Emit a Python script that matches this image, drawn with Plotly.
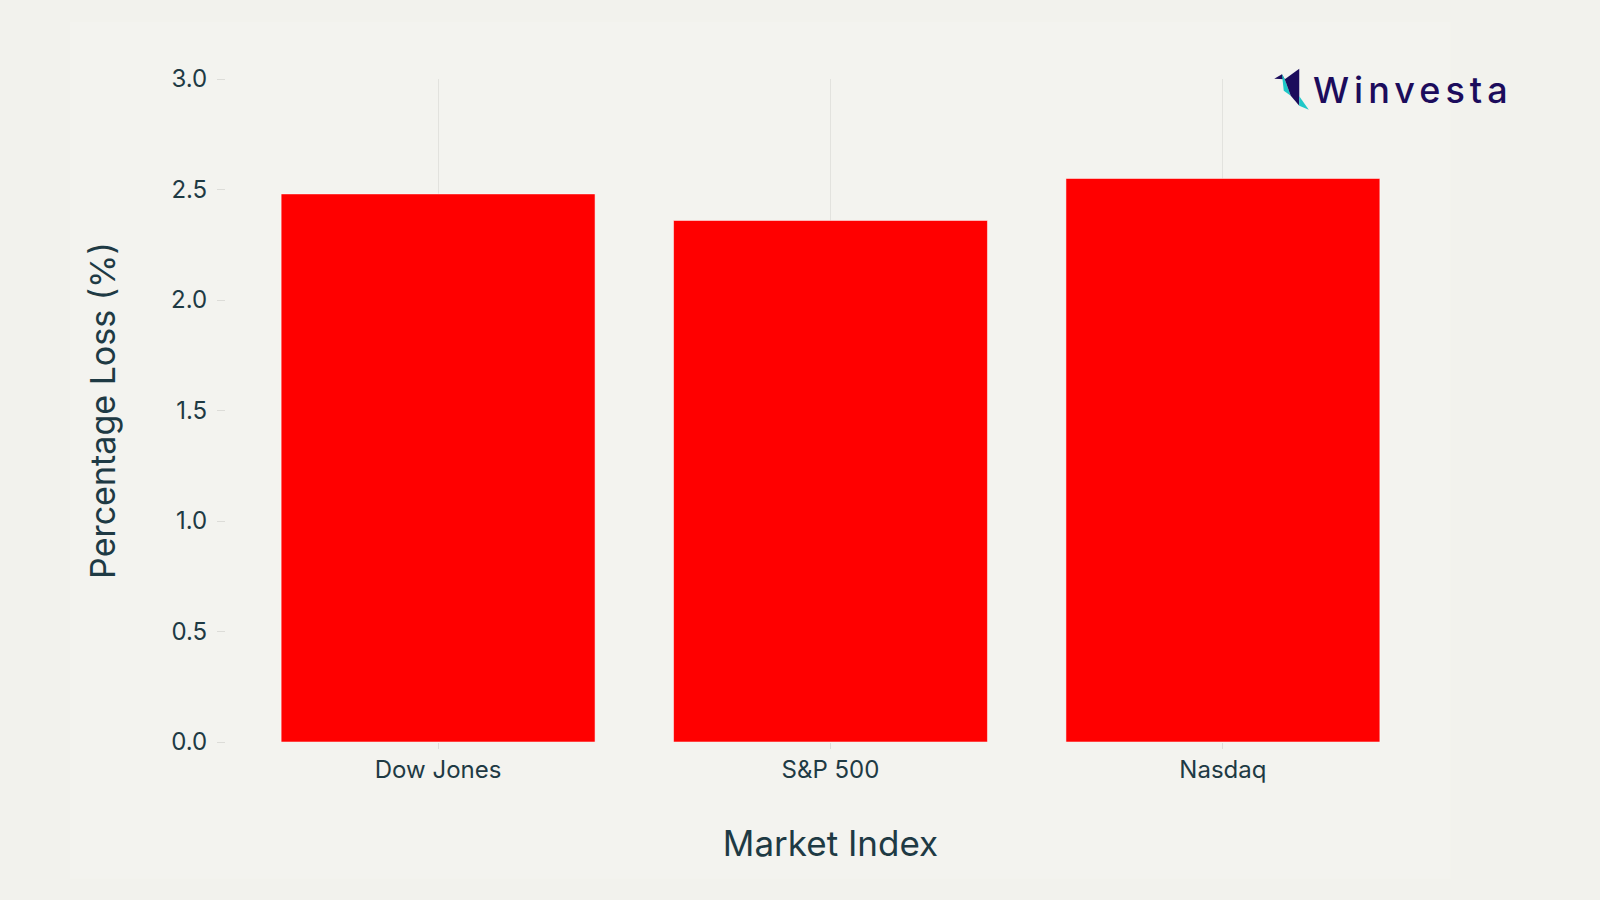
import plotly.graph_objects as go

# ---- data ----
categories = ["Dow Jones", "S&P 500", "Nasdaq"]
pct_loss = [2.48, 2.36, 2.55]
y_ticks = [0.0, 0.5, 1.0, 1.5, 2.0, 2.5, 3.0]
y_tick_labels = ["0.0", "0.5", "1.0", "1.5", "2.0", "2.5", "3.0"]

# ---- layout geometry (pixels) ----
W, H = 1600, 900
L, R, T, B = 226, 1434.7, 79.3, 741.7
PW, PH = R - L, B - T

def px(x):
    return (x - L) / PW

def py(y):
    return (B - y) / PH

TEXT = "#1E3A44"
OUTER_BG = "#F2F2ED"
INNER_BG = "#F3F3EF"
LOGO = "#1C0C5C"
TEAL = "#1EC8C8"

fig = go.Figure()
fig.add_trace(go.Bar(
    x=categories, y=pct_loss,
    marker=dict(color="#FF0000", line=dict(color="rgba(255,255,255,0.5)", width=1)),
    width=0.8,
    hoverinfo="x+y",
))

shapes = [
    dict(type="rect", xref="paper", yref="paper",
         x0=px(70), x1=px(1450), y0=py(878), y1=py(22),
         fillcolor=INNER_BG, line=dict(width=0), layer="below"),
]

def path(points):
    return "M " + " L ".join(f"{px(a):.5f},{py(b):.5f}" for a, b in points) + " Z"

# Winvesta bird logo (decoration)
shapes += [
    dict(type="path", xref="paper", yref="paper",
         path=path([(1274, 79), (1281.7, 74.5), (1284.5, 79.5)]),
         fillcolor=LOGO, line=dict(width=0), layer="above"),
    dict(type="path", xref="paper", yref="paper",
         path=path([(1281.7, 74.5), (1284.5, 79.5), (1290.5, 96), (1283.5, 91)]),
         fillcolor=TEAL, line=dict(width=0), layer="above"),
    dict(type="path", xref="paper", yref="paper",
         path=path([(1299, 69), (1284.5, 79.5), (1290.5, 96), (1299, 106)]),
         fillcolor=LOGO, line=dict(width=0), layer="above"),
    dict(type="path", xref="paper", yref="paper",
         path=path([(1299, 96.5), (1308.5, 110), (1299, 106)]),
         fillcolor=TEAL, line=dict(width=0), layer="above"),
]

annotations = [
    dict(text='<span style="letter-spacing:5px">Winvesta</span>',
         xref="paper", yref="paper",
         x=px(1311), y=py(90), xanchor="left", yanchor="middle",
         showarrow=False,
         font=dict(family="Inter, Lato, sans-serif", size=36, color=LOGO, weight=500)),
]

units = PW / 392.3
pad = (units - 3) / 2

fig.update_layout(
    width=W, height=H,
    margin=dict(l=L, r=W - R, t=T, b=H - B, autoexpand=False),
    paper_bgcolor=OUTER_BG,
    plot_bgcolor="rgba(0,0,0,0)",
    font=dict(family="Inter, Roboto, sans-serif", color=TEXT, size=24),
    showlegend=False,
    bargap=0.2,
    shapes=shapes,
    annotations=annotations,
    xaxis=dict(
        range=[-0.5 - pad, 2.5 + pad],
        showgrid=True, gridcolor="#E2E2DE", gridwidth=1,
        ticks="outside", ticklen=6, tickcolor="#DCDCD8", tickwidth=1,
        showline=False, zeroline=False,
        tickfont=dict(size=24, color=TEXT),
        title=dict(text="Market Index", font=dict(size=35, color=TEXT), standoff=48),
    ),
    yaxis=dict(
        range=[0, 3],
        tickvals=y_ticks, ticktext=y_tick_labels,
        showgrid=False, zeroline=False, showline=False,
        ticks="outside", ticklen=8, tickcolor="#DCDCD8", tickwidth=1,
        ticklabelstandoff=5,
        tickfont=dict(size=24, color=TEXT),
        title=dict(text="Percentage Loss (%)", font=dict(size=34, color=TEXT), standoff=45),
    ),
)

fig.write_html(
    "out.html",
    config={"displayModeBar": False},
    post_script="document.body.style.margin='0';document.body.style.background='#F2F2ED';",
)
